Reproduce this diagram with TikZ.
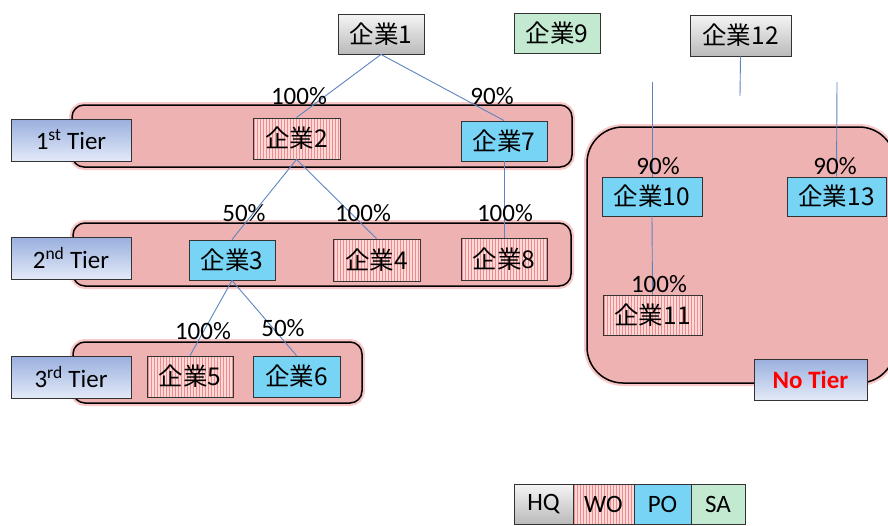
\documentclass[tikz,border=0pt]{standalone}
\usepackage{fontspec}
\setmainfont{Carlito}
\newfontfamily\jp{Noto Sans CJK JP}
\usetikzlibrary{shadows}
\definecolor{wofill}{HTML}{FBD9D9}
\definecolor{wostripe}{HTML}{F28C8C}
\definecolor{pofill}{HTML}{78D4F4}
\definecolor{safill}{HTML}{C4E9D1}
\definecolor{regfill}{HTML}{EFB2B2}
\definecolor{regglow}{HTML}{F7A3A3}
\definecolor{conn}{HTML}{5A85C0}
\definecolor{tiertop}{HTML}{99AFDE}
\definecolor{tierbot}{HTML}{E3EAF8}
\tikzset{
  shad/.style={drop shadow={opacity=0.3, shadow xshift=1pt, shadow yshift=-1pt}},
  base/.style={draw=black!80, line width=0.9pt, inner sep=0pt, minimum height=40pt},
  co/.style={base, shad, font=\jp\fontsize{24.5}{25}\selectfont},
  hqfil/.style={top color=black!4, bottom color=black!27},
  wofil/.style={fill=wofill, path picture={\foreach \i in {1,4,...,120} \draw[wostripe, line width=0.6pt] ([xshift=\i pt]path picture bounding box.south west) -- ([xshift=\i pt]path picture bounding box.north west);}},
  pofil/.style={fill=pofill},
  safil/.style={fill=safill},
  region/.style={draw=black, line width=1.5pt, fill=regfill, inner sep=0pt, preaction={draw=regglow, line width=6pt, opacity=0.6}},
  tier/.style={draw=black!80, line width=1pt, top color=tiertop, bottom color=tierbot, inner sep=0pt, minimum width=120pt, minimum height=42pt, font=\fontsize{25}{25}\selectfont, shad},
  conn/.style={draw=conn, line width=0.9pt},
  pct/.style={inner sep=0pt, font=\fontsize{25}{25}\selectfont},
  leg/.style={base, font=\fontsize{25}{25}\selectfont}
}
\begin{document}
\begin{tikzpicture}[x=1pt,y=-1pt]
\useasboundingbox (0,0) rectangle (888,525);
\clip (0,0) rectangle (888,525);
% regions
\node[region, rounded corners=12pt, minimum width=500pt, minimum height=62pt] (r1) at (322,136) {};
\node[region, rounded corners=12pt, minimum width=498pt, minimum height=63pt] (r2) at (322,254.5) {};
\node[region, rounded corners=12pt, minimum width=289pt, minimum height=61pt] (r3) at (217.5,372.5) {};
\node[region, rounded corners=36pt, minimum width=308pt, minimum height=256pt] (r4) at (741,255) {};
% tier labels
\node[tier] (t1) at (71,140) {1\textsuperscript{st} Tier};
\node[tier] (t2) at (71,258) {2\textsuperscript{nd} Tier};
\node[tier] (t3) at (71,377) {3\textsuperscript{rd} Tier};
\node[tier, minimum width=113pt, minimum height=41pt, font=\fontsize{25}{25}\selectfont\bfseries, text=red] (t4) at (810.5,379.5) {No Tier};
% companies
\node[co, hqfil, minimum width=86pt] (c1) at (381,34) {企業1};
\node[co, safil, minimum width=86pt] (c9) at (557,33) {企業9};
\node[co, hqfil, minimum width=101pt, minimum height=41pt] (c12) at (740.5,35.5) {企業12};
\node[co, wofil, minimum width=87pt, minimum height=41pt] (c2) at (296.5,138.5) {企業2};
\node[co, pofil, minimum width=86pt] (c7) at (504,141) {企業7};
\node[co, pofil, minimum width=86pt] (c3) at (232,260) {企業3};
\node[co, wofil, minimum width=87pt, minimum height=42pt] (c4) at (376.5,260) {企業4};
\node[co, wofil, minimum width=86pt, minimum height=42pt] (c8) at (504,259) {企業8};
\node[co, wofil, minimum width=86pt, minimum height=41pt] (c5) at (190,376.5) {企業5};
\node[co, pofil, minimum width=87pt, minimum height=41pt] (c6) at (296.5,376.5) {企業6};
\node[co, pofil, minimum width=100pt, minimum height=39pt] (c10) at (652,196.5) {企業10};
\node[co, pofil, minimum width=99pt, minimum height=39pt] (c13) at (836.5,196.5) {企業13};
\node[co, wofil, minimum width=99pt] (c11) at (652.5,315) {企業11};
% free ends
\coordinate (e12) at (740,96);
\coordinate (e10) at (652,82);
\coordinate (e13) at (837,82);
% connectors
\draw[conn] (c1.south) -- (c2.north);
\draw[conn] (c1.south) -- (c7.north);
\draw[conn] (c2.south) -- (c3.north);
\draw[conn] (c2.south) -- (c4.north);
\draw[conn] (c7.south) -- (c8.north);
\draw[conn] (c3.south) -- (c5.north);
\draw[conn] (c3.south) -- (c6.north);
\draw[conn] (c12.south) -- (e12);
\draw[conn] (e10) -- (c10.north);
\draw[conn] (c10.south) -- (c11.north);
\draw[conn] (e13) -- (c13.north);
% percentages
\node[pct] (p12) at (299,96) {100\%};
\node[pct] (p17) at (492,96) {90\%};
\node[pct] (p23) at (244,213) {50\%};
\node[pct] (p24) at (363,213) {100\%};
\node[pct] (p78) at (505,213) {100\%};
\node[pct] (p35) at (203,331) {100\%};
\node[pct] (p36) at (283,328) {50\%};
\node[pct] (p10) at (658,166) {90\%};
\node[pct] (p13) at (835,166) {90\%};
\node[pct] (p11) at (659,284) {100\%};
% legend
\node[leg, hqfil, minimum width=59pt] (lhq) at (543.5,504) {HQ};
\node[leg, wofil, minimum width=61pt] (lwo) at (603.5,504) {WO};
\node[leg, pofil, minimum width=57pt] (lpo) at (662.5,504) {PO};
\node[leg, safil, minimum width=54pt] (lsa) at (718,504) {SA};
\end{tikzpicture}
\end{document}
